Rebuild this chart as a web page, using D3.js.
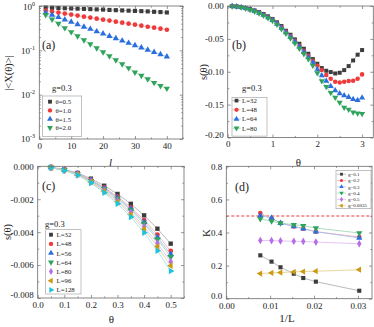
<!DOCTYPE html>
<html><head><meta charset="utf-8">
<script src="https://cdn.jsdelivr.net/npm/d3@7"></script>
<style>body{margin:0;background:#fff}svg{display:block}</style>
</head><body><svg id="c" width="374" height="327"></svg>
<script>
// ---------- DATA ----------
// panel (a)
const aL = [2,4,6,8,10,12,14,16,18,20,22,24,26,28,30,32,34,36,38,40];
const aTheta05 = [0.92,0.91,0.90,0.89,0.88,0.87,0.86,0.85,0.84,0.83,0.815,0.805,0.795,0.785,0.775,0.765,0.755,0.74,0.73,0.715];
const aTheta10 = [0.79,0.75,0.71,0.675,0.64,0.607,0.575,0.547,0.519,0.492,0.468,0.444,0.421,0.399,0.379,0.36,0.341,0.324,0.308,0.292];
const aTheta15 = [0.71,0.63,0.556,0.49,0.436,0.385,0.339,0.302,0.266,0.237,0.209,0.186,0.164,0.146,0.129,0.115,0.102,0.091,0.081,0.072];
const aTheta20 = [0.63,0.50,0.40,0.32,0.26,0.21,0.17,0.138,0.112,0.091,0.074,0.060,0.049,0.040,0.032,0.027,0.0224,0.0186,0.0158,0.0138];
const aLabels = ["θ=0.5","θ=1.0","θ=1.5","θ=2.0"];
// panel (b)
const bTheta = [0.1,0.2,0.3,0.4,0.5,0.6,0.7,0.8,0.9,1.0,1.1,1.2,1.3,1.4,1.5,1.6,1.7,1.8,1.9,2.0,2.1,2.2,2.3,2.4,2.5,2.6,2.7,2.8,2.9,3.0];
const bL32 = [-0.0002,-0.0008,-0.0017,-0.0030,-0.0047,-0.0068,-0.0093,-0.0122,-0.0157,-0.0197,-0.0248,-0.0305,-0.0376,-0.0437,-0.0508,-0.0574,-0.0650,-0.0726,-0.0807,-0.0878,-0.0944,-0.0985,-0.1005,-0.1026,-0.1015,-0.0975,-0.0914,-0.0828,-0.0741,-0.0670];
const bL48 = [-0.0002,-0.0008,-0.0019,-0.0033,-0.0052,-0.0074,-0.0100,-0.0131,-0.0167,-0.0208,-0.0262,-0.0325,-0.0391,-0.0457,-0.0528,-0.0604,-0.0680,-0.0757,-0.0833,-0.0909,-0.0975,-0.1050,-0.1107,-0.1153,-0.1163,-0.1153,-0.1142,-0.1137,-0.1107,-0.1040];
const bL64 = [-0.0002,-0.0009,-0.0019,-0.0034,-0.0055,-0.0078,-0.0105,-0.0137,-0.0174,-0.0217,-0.0272,-0.0335,-0.0402,-0.0470,-0.0542,-0.0618,-0.0700,-0.0778,-0.0858,-0.0965,-0.1056,-0.1142,-0.1219,-0.1285,-0.1330,-0.1360,-0.1386,-0.1417,-0.1432,-0.1396];
const bL80 = [-0.0002,-0.0009,-0.0020,-0.0036,-0.0058,-0.0082,-0.0110,-0.0143,-0.0181,-0.0226,-0.0283,-0.0350,-0.0418,-0.0490,-0.0565,-0.0645,-0.0728,-0.0805,-0.0905,-0.1020,-0.1142,-0.1229,-0.1320,-0.1391,-0.1467,-0.1544,-0.1574,-0.1615,-0.1630,-0.1640];
const bLabels = ["L=32","L=48","L=64","L=80"];
// panel (c)
const cTheta = [0.05,0.10,0.15,0.20,0.25,0.30,0.35,0.40,0.45,0.50];
const cL32  = [-0.00006,-0.00019,-0.00040,-0.00075,-0.00118,-0.00168,-0.00228,-0.00298,-0.00379,-0.00470];
const cL48  = [-0.00007,-0.00021,-0.00044,-0.00082,-0.00129,-0.00184,-0.00250,-0.00327,-0.00415,-0.00515];
const cL56  = [-0.00007,-0.00022,-0.00046,-0.00085,-0.00134,-0.00191,-0.00259,-0.00339,-0.00431,-0.00535];
const cL64  = [-0.00007,-0.00022,-0.00047,-0.00088,-0.00138,-0.00197,-0.00267,-0.00349,-0.00443,-0.00550];
const cL80  = [-0.00007,-0.00023,-0.00049,-0.00093,-0.00146,-0.00207,-0.00281,-0.00368,-0.00468,-0.00580];
const cL96  = [-0.00008,-0.00024,-0.00051,-0.00096,-0.00152,-0.00216,-0.00293,-0.00383,-0.00487,-0.00604];
const cL128 = [-0.00008,-0.00026,-0.00054,-0.00101,-0.00160,-0.00227,-0.00308,-0.00403,-0.00513,-0.00636];
const cLabels = ["L=32","L=48","L=56","L=64","L=80","L=96","L=128"];
// panel (d)
const dInvL = [0.00775,0.01031,0.01235,0.01538,0.01754,0.02041,0.0303];
const dG01 = [0.262,0.224,0.190,0.151,0.125,0.103,0.048];
const dG02 = [0.518,0.484,0.457,0.437,0.423,0.405,0.373];
const dG03 = [0.502,0.488,0.457,0.437,0.423,0.405,0.367];
const dG04 = [0.482,0.468,0.457,0.447,0.441,0.427,0.397];
const dG05 = [0.352,0.351,0.349,0.347,0.346,0.342,0.332];
const dG06 = [0.152,0.156,0.158,0.162,0.164,0.166,0.175];
const dLabels = ["g=0.1","g=0.2","g=0.3","g=0.4","g=0.5","g=0.6035"];
const dRef = 0.5;

// ---------- STYLE ----------
const FONT = '"Liberation Serif","Times New Roman",serif';
const COL = {black:"#3c3c3c", red:"#ee3a3a", blue:"#2b6fdc", green:"#2fa35c", purple:"#b56ee6", orange:"#cc9a12", cyan:"#1ec2da"};
const LIG = {black:"#a8a8a8", red:"#f4a3a3", blue:"#9dbcef", green:"#98d4ae", purple:"#dbb6f3", orange:"#e5cb85", cyan:"#93e0ec"};
const SYM = {
  sq:[d3.symbolSquare,0], ci:[d3.symbolCircle,0], tu:[d3.symbolTriangle,0],
  td:[d3.symbolTriangle,180], di:[d3.symbolDiamond,0], tl:[d3.symbolTriangle,-90], tr:[d3.symbolTriangle,90]
};
const svg = d3.select("#c");

function marker(g, cx, cy, s, size, color){
  const [t,r] = SYM[s];
  g.append("path").attr("d", d3.symbol().type(t).size(size)())
    .attr("transform", `translate(${cx},${cy}) rotate(${r})`).attr("fill", color);
}

function frame(g, x, y, o){
  const [x0,x1] = x.range(), [y1,y0] = y.range();
  const st = s => s.call(a=>a.select(".domain").remove())
      .call(a=>a.selectAll("line").attr("stroke","#6a6a6a").attr("stroke-width",0.7))
      .call(a=>a.selectAll("text").attr("font-family",FONT).attr("font-size",9).attr("fill","#222"));
  g.append("g").attr("transform",`translate(0,${y1})`)
    .call(d3.axisBottom(x).tickValues(o.xMaj).tickSizeInner(-3).tickSizeOuter(0).tickPadding(3.5).tickFormat(o.xf)).call(st);
  g.append("g").attr("transform",`translate(0,${y1})`)
    .call(d3.axisBottom(x).tickValues(o.xMin).tickSizeInner(-1.6).tickSizeOuter(0).tickFormat("")).call(st);
  g.append("g").attr("transform",`translate(0,${y0})`)
    .call(d3.axisTop(x).tickValues(o.xMaj).tickSizeInner(-3).tickSizeOuter(0).tickFormat("")).call(st);
  g.append("g").attr("transform",`translate(0,${y0})`)
    .call(d3.axisTop(x).tickValues(o.xMin).tickSizeInner(-1.6).tickSizeOuter(0).tickFormat("")).call(st);
  const yl = g.append("g").attr("transform",`translate(${x0},0)`)
    .call(d3.axisLeft(y).tickValues(o.yMaj).tickSizeInner(-3).tickSizeOuter(0).tickPadding(4).tickFormat(o.yf || "")).call(st);
  // lift the lowest y label a little so it clears the first x label
  yl.selectAll(".tick").filter(d=>d===o.yMaj[0]).select("text").attr("dy","-0.05em");
  g.append("g").attr("transform",`translate(${x0},0)`)
    .call(d3.axisLeft(y).tickValues(o.yMin).tickSizeInner(-1.6).tickSizeOuter(0).tickFormat("")).call(st);
  g.append("g").attr("transform",`translate(${x1},0)`)
    .call(d3.axisRight(y).tickValues(o.yMaj).tickSizeInner(-3).tickSizeOuter(0).tickFormat("")).call(st);
  g.append("g").attr("transform",`translate(${x1},0)`)
    .call(d3.axisRight(y).tickValues(o.yMin).tickSizeInner(-1.6).tickSizeOuter(0).tickFormat("")).call(st);
  g.append("rect").attr("x",x0).attr("y",y0).attr("width",x1-x0).attr("height",y1-y0)
    .attr("fill","none").attr("stroke","#6a6a6a").attr("stroke-width",0.8);
}

function txt(g, x, y, s, size, o={}){
  const t = g.append("text").attr("x",x).attr("y",y).attr("font-family",FONT).attr("font-size",size)
    .attr("fill","#222").attr("text-anchor",o.anchor||"start").text(s);
  if(o.italic) t.attr("font-style","italic");
  if(o.rot) t.attr("transform",`rotate(-90,${x},${y})`);
  return t;
}

function series(g, x, y, xs, ys, s, c, size, line=true){
  const pts = xs.map((v,i)=>[x(v), y(ys[i])]);
  if(line) g.append("path").attr("d", d3.line()(pts)).attr("fill","none").attr("stroke",LIG[c]).attr("stroke-width",0.8);
  pts.forEach(p=>marker(g,p[0],p[1],s,size,COL[c]));
}

// ---------- PANEL (a) ----------
{
  const g = svg.append("g");
  const x = d3.scaleLinear().domain([0,45]).range([39.3,182.8]);
  const y = d3.scaleLog().domain([1e-3,1]).range([139,6]);
  const plot = g.append("g");
  const yMin = [];
  [1e-3,1e-2,1e-1].forEach(d=>{for(let k=2;k<=9;k++) yMin.push(d*k);});
  const ser = [[aTheta05,"sq","black"],[aTheta10,"ci","red"],[aTheta15,"tu","blue"],[aTheta20,"td","green"]];
  ser.forEach(([v,s,c])=>series(plot,x,y,aL,v,s,c,17));
  frame(g,x,y,{xMaj:[0,10,20,30,40],xMin:[5,15,25,35,45],xf:d3.format("d"),yMaj:[1e-3,1e-2,1e-1,1],yMin:yMin});
  [0,-1,-2,-3].forEach(p=>{
    const t = txt(g,35,y(Math.pow(10,p))+3.5 - (p===-3?1:0),"10",9,{anchor:"end"});
    t.append("tspan").attr("dy",-4).attr("font-size",6).text(String(p));
  });
  txt(g,42,49,"(a)",12);
  txt(g,52,91,"g=0.3",8.5);
  g.append("rect").attr("x",42.3).attr("y",96).attr("width",39.4).attr("height",40.5).attr("fill","#fff").attr("stroke","#999").attr("stroke-width",0.6);
  ser.forEach(([v,s,c],i)=>{
    const yy = 101.7+i*8.7;
    marker(g,50,yy,s,15,COL[c]);
    txt(g,55.5,yy+2.4,aLabels[i],6.8);
  });
  txt(g,110.5,166,"l",11,{anchor:"middle",italic:true});
  txt(g,12,73,"|<X(θ)>|",10.5,{anchor:"middle",rot:true});
}

// ---------- PANEL (b) ----------
{
  const g = svg.append("g");
  const x = d3.scaleLinear().domain([0,3.25]).range([227.7,373.3]);
  const y = d3.scaleLinear().domain([-0.2,0]).range([137.5,6]);
  const plot = g.append("g");
  const ser = [[bL32,"sq","black"],[bL48,"ci","red"],[bL64,"tu","blue"],[bL80,"td","green"]];
  ser.forEach(([v,s,c])=>series(plot,x,y,bTheta,v,s,c,16));
  frame(g,x,y,{xMaj:[0,1,2,3],xMin:[0.5,1.5,2.5],xf:d3.format("d"),
    yMaj:[-0.2,-0.15,-0.1,-0.05,0],yMin:[-0.175,-0.125,-0.075,-0.025],yf:d=>d.toFixed(2)});
  txt(g,232,49,"(b)",12);
  txt(g,242,91,"g=0.3",8.5);
  g.append("rect").attr("x",232).attr("y",97.3).attr("width",35).attr("height",38.8).attr("fill","#fff").attr("stroke","#999").attr("stroke-width",0.6);
  ser.forEach(([v,s,c],i)=>{
    const yy = 100.6+i*9.2;
    g.append("line").attr("x1",232.5).attr("x2",240.5).attr("y1",yy).attr("y2",yy).attr("stroke",LIG[c]).attr("stroke-width",0.8);
    marker(g,236.5,yy,s,14,COL[c]);
    txt(g,242,yy+2.4,bLabels[i],6.8);
  });
  txt(g,298.5,166,"θ",11,{anchor:"middle"});
  txt(g,207,72,"s(θ)",10.5,{anchor:"middle",rot:true});
}

// ---------- PANEL (c) ----------
{
  const g = svg.append("g");
  const x = d3.scaleLinear().domain([0,0.55]).range([37.7,184]);
  const y = d3.scaleLinear().domain([-0.008,0]).range([298,166.3]);
  const plot = g.append("g");
  const ser = [[cL32,"sq","black"],[cL48,"ci","red"],[cL56,"tu","blue"],[cL64,"td","green"],[cL80,"di","purple"],[cL96,"tl","orange"],[cL128,"tr","cyan"]];
  ser.forEach(([v,s,c])=>series(plot,x,y,cTheta,v,s,c,19));
  frame(g,x,y,{xMaj:[0,0.1,0.2,0.3,0.4,0.5],xMin:[0.05,0.15,0.25,0.35,0.45,0.55],xf:d=>d.toFixed(1),
    yMaj:[-0.008,-0.006,-0.004,-0.002,0],yMin:[-0.007,-0.005,-0.003,-0.001],yf:d=>d.toFixed(3)});
  txt(g,42,190,"(c)",12);
  txt(g,45,227,"g=0.3",8.5);
  g.append("rect").attr("x",45.7).attr("y",229.7).attr("width",35.3).attr("height",64.3).attr("fill","#fff").attr("stroke","#999").attr("stroke-width",0.6);
  ser.forEach(([v,s,c],i)=>{
    const yy = 234.7+i*9.2;
    marker(g,51,yy,s,15,COL[c]);
    txt(g,56.5,yy+2.4,cLabels[i],6.8);
  });
  txt(g,111.5,323,"θ",11,{anchor:"middle"});
  txt(g,11,232,"s(θ)",10.5,{anchor:"middle",rot:true});
}

// ---------- PANEL (d) ----------
{
  const g = svg.append("g");
  const x = d3.scaleLinear().domain([0,0.0332]).range([226.3,372]);
  const y = d3.scaleLinear().domain([0,0.8]).range([298.7,166.3]);
  const plot = g.append("g");
  plot.append("line").attr("x1",x(0)).attr("x2",x(0.0332)).attr("y1",y(dRef)).attr("y2",y(dRef))
    .attr("stroke","#f77a7a").attr("stroke-width",1.6).attr("stroke-dasharray","3,2");
  const ser = [[dG01,"sq","black"],[dG02,"ci","red"],[dG03,"tu","blue"],[dG04,"td","green"],[dG05,"di","purple"],[dG06,"tl","orange"]];
  ser.forEach(([v,s,c])=>series(plot,x,y,dInvL,v,s,c,17));
  frame(g,x,y,{xMaj:[0,0.01,0.02,0.03],xMin:[0.005,0.015,0.025],xf:d=>d.toFixed(2),
    yMaj:[0,0.2,0.4,0.6,0.8],yMin:[0.1,0.3,0.5,0.7],yf:d=>d.toFixed(1)});
  txt(g,235,191,"(d)",12);
  g.append("rect").attr("x",336).attr("y",170.3).attr("width",35).attr("height",38.4).attr("fill","#fff").attr("stroke","#999").attr("stroke-width",0.6);
  ser.forEach(([v,s,c],i)=>{
    const yy = 174.2+i*6.3;
    g.append("line").attr("x1",337).attr("x2",346).attr("y1",yy).attr("y2",yy).attr("stroke",LIG[c]).attr("stroke-width",0.7);
    marker(g,341.5,yy,s,8,COL[c]);
    txt(g,348,yy+1.7,dLabels[i],5);
  });
  txt(g,287,322,"1/L",11,{anchor:"middle"});
  txt(g,210,233,"K",11,{anchor:"middle",rot:true});
}
</script>
</body></html>
